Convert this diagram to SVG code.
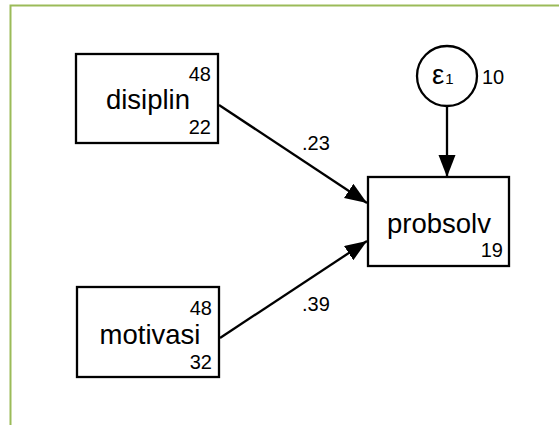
<svg xmlns="http://www.w3.org/2000/svg" width="559" height="425" viewBox="0 0 559 425">
<style>
.box{fill:#fff;stroke:#000;stroke-width:2.3}
.lbl{font-family:"Liberation Sans",Arial,sans-serif;font-size:27.5px;fill:#000}
.num{font-family:"Liberation Sans",Arial,sans-serif;font-size:20px;fill:#000}
.end{text-anchor:end}
.mid{text-anchor:middle}
.edge{stroke:#000;stroke-width:2.3;fill:none}
</style>
<defs>
<marker id="ah" markerUnits="userSpaceOnUse" markerWidth="24" markerHeight="18" refX="22" refY="8.5" orient="auto">
<path d="M0,0 L22,8.5 L0,17 Z" fill="#000"/>
</marker>
</defs>
<rect x="0" y="0" width="559" height="425" fill="#fff"/>
<rect x="10.5" y="5.5" width="570" height="440" fill="none" stroke="#9BBB59" stroke-width="2"/>
<g id="connectors">
<line class="edge" x1="219" y1="105" x2="367" y2="203" marker-end="url(#ah)"/>
<line class="edge" x1="220" y1="338" x2="367" y2="241" marker-end="url(#ah)"/>
<line class="edge" x1="447" y1="106" x2="447" y2="177" marker-end="url(#ah)"/>
<text class="num" x="302" y="150">.23</text>
<text class="num" x="302" y="311">.39</text>
</g>
<g id="disiplin">
<rect class="box" x="76" y="54" width="142" height="89"/>
<text class="num end" x="211" y="81">48</text>
<text class="lbl mid" x="148" y="109">disiplin</text>
<text class="num end" x="211" y="134">22</text>
</g>
<g id="motivasi">
<rect class="box" x="77" y="287" width="142" height="90"/>
<text class="num end" x="212" y="315">48</text>
<text class="lbl mid" x="150" y="344">motivasi</text>
<text class="num end" x="212" y="369">32</text>
</g>
<g id="probsolv">
<rect class="box" x="368" y="177" width="141" height="89"/>
<text class="lbl mid" x="439" y="233">probsolv</text>
<text class="num end" x="503" y="257">19</text>
</g>
<g id="e1">
<circle class="box" cx="447" cy="76" r="30"/>
<text class="lbl" x="432" y="84" font-size="27">ε<tspan font-size="15" dx="1">1</tspan></text>
<text class="num" x="482" y="84">10</text>
</g>
</svg>
